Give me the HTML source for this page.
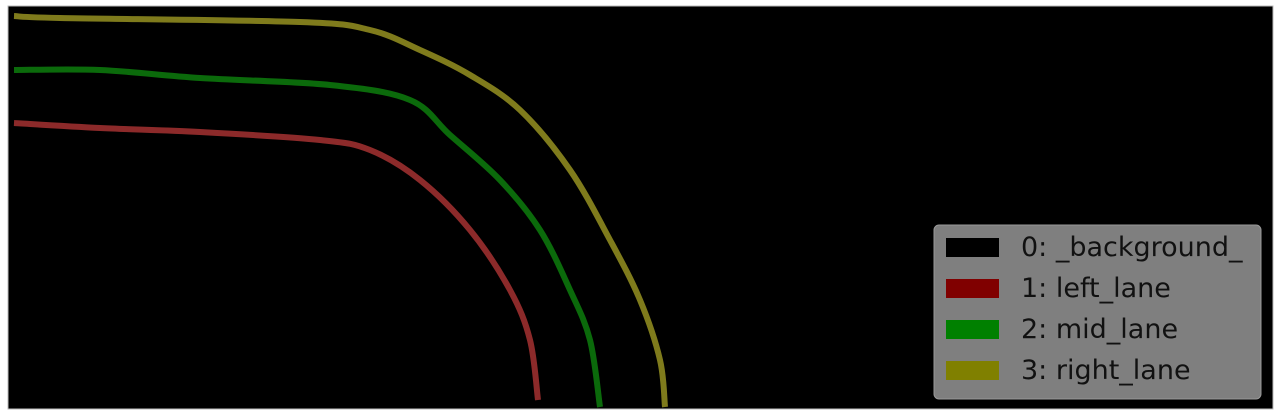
<!DOCTYPE html>
<html><head><meta charset="utf-8"><style>
html,body{margin:0;padding:0;background:#fff;width:1280px;height:417px;overflow:hidden}
svg{display:block}
text{font-family:"DejaVu Sans","Liberation Sans",sans-serif}
</style></head><body>
<svg id="chart" width="1280" height="417">
<rect x="8" y="6" width="1265" height="403" fill="#000" stroke="#bbb" stroke-width="1"/>
<g id="lanes"></g>
<g>
<rect x="934" y="225" width="327" height="174" rx="5" fill="#7f7f7f" stroke="#999"/>
<g id="legend-items"></g>
</g>
</svg>
<script>
const labels=["0: _background_","1: left_lane","2: mid_lane","3: right_lane"];
const colors=["#000000","#800000","#008000","#808000"];
const leftX=[14,100,200,320,370,420,470,510,530,538];
const leftY=[123,128,132,140,150,180,230,290,340,400];
const midX=[14,100,200,330,410,450,500,540,570,590,600];
const midY=[70,70,78,85,100,135,180,230,290,340,407];
const rightX=[14,60,300,370,420,470,520,570,610,640,660,665];
const rightY=[16,18,22,30,50,75,110,170,240,300,360,407];
const ns="http://www.w3.org/2000/svg";
const lanes=document.getElementById('lanes');
function smooth(xs,ys){
  let d='M'+xs[0]+','+ys[0];
  for(let i=0;i<xs.length-1;i++){
    const x0=xs[Math.max(i-1,0)],y0=ys[Math.max(i-1,0)];
    const x3=xs[Math.min(i+2,xs.length-1)],y3=ys[Math.min(i+2,xs.length-1)];
    const c1x=xs[i]+(xs[i+1]-x0)/6,c1y=ys[i]+(ys[i+1]-y0)/6;
    const c2x=xs[i+1]-(x3-xs[i])/6,c2y=ys[i+1]-(y3-ys[i])/6;
    d+=' C'+c1x+','+c1y+' '+c2x+','+c2y+' '+xs[i+1]+','+ys[i+1];
  }
  return d;
}
function lane(xs,ys,col,name){
  const p=document.createElementNS(ns,'path');
  p.setAttribute('d',smooth(xs,ys));
  p.setAttribute('fill','none');p.setAttribute('stroke',col);
  p.setAttribute('stroke-width','6');p.setAttribute('stroke-linejoin','round');
  
  
  lanes.appendChild(p);
}
lane(leftX,leftY,"#8c2a2a","left-lane");
lane(midX,midY,"#0b6a0b","mid-lane");
lane(rightX,rightY,"#7f7b1c","right-lane");
const li=document.getElementById('legend-items');
labels.forEach((t,i)=>{
  const y=247+i*41;
  const r=document.createElementNS(ns,'rect');
  r.setAttribute('x',946);r.setAttribute('y',y-9);r.setAttribute('width',53);r.setAttribute('height',19);
  r.setAttribute('fill',colors[i]);
  
  
  li.appendChild(r);
  const tx=document.createElementNS(ns,'text');
  tx.setAttribute('x',1021);tx.setAttribute('y',y+9);tx.setAttribute('font-size','27');tx.setAttribute('fill','#111');
  tx.textContent=t;
  
  
  li.appendChild(tx);
});
</script>
</body></html>
